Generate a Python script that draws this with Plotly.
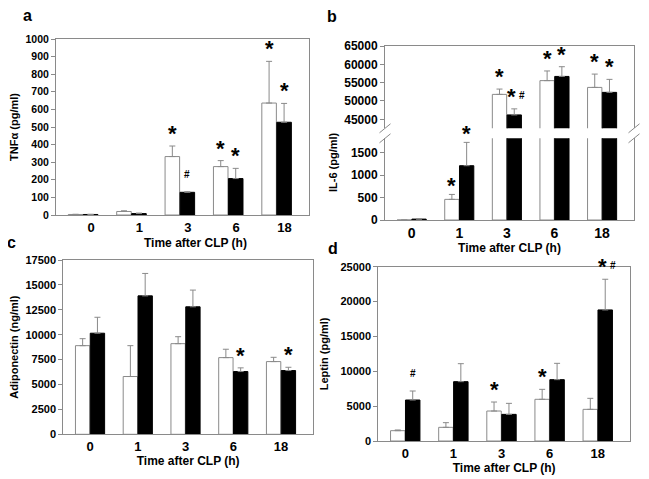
import plotly.graph_objects as go

# ---------------- data ----------------
times = ["0", "1", "3", "6", "18"]

tnf_white = [3, 20, 332, 275, 636]
tnf_white_err = [1, 4, 60, 34, 237]
tnf_black = [3, 8, 129, 207, 527]
tnf_black_err = [1, 3, 3, 58, 107]
tnf_sig_white = ["", "", "*", "*", "*"]
tnf_sig_black = ["", "", "#", "*", "*"]

il6_white = [0, 460, 51800, 55550, 53700]
il6_white_err = [0, 110, 1450, 2640, 3640]
il6_black = [20, 1210, 46200, 56700, 52350]
il6_black_err = [5, 520, 1650, 2650, 3550]
il6_sig_white = ["", "*", "*", "*", "*"]
il6_sig_black = ["", "*", "*#", "*", "*"]

adipo_white = [8900, 5800, 9100, 7700, 7300]
adipo_white_err = [700, 3100, 700, 840, 430]
adipo_black = [10150, 13900, 12800, 6300, 6400]
adipo_black_err = [1600, 2250, 1680, 370, 330]
adipo_sig_white = ["", "", "", "", ""]
adipo_sig_black = ["", "", "", "*", "*"]

leptin_white = [1480, 1960, 4300, 5980, 4540]
leptin_white_err = [100, 670, 1290, 1430, 1580]
leptin_black = [5880, 8510, 3820, 8800, 18800]
leptin_black_err = [1290, 2580, 1580, 2340, 4400]
leptin_sig_white = ["", "", "*", "*", ""]
leptin_sig_black = ["#", "", "", "", "*#"]

# ---------------- style ----------------
PAGE = 8                      # default body margin of the html page
W, H = 649 - PAGE, 479 - PAGE
GRAY = "#8a8a8a"
FONT = "Liberation Sans, Arial, sans-serif"
OFF = 0.155  # half spacing between the two bars of a group (axis units)
XR = [-0.56, 4.67]
xidx = list(range(len(times)))


def fx(px):
    return (px - PAGE) / W


def fy(px):
    return 1 - (px - PAGE) / H


def px_x(a, b):
    return [fx(a), fx(b)]


def px_y(top, bottom):
    return [fy(bottom), fy(top)]


fig = go.Figure()


def add_pair(xa, ya, white, werr, black, berr):
    for vals, err, fill in ((white, werr, "white"), (black, berr, "black")):
        fig.add_trace(go.Bar(
            x=xidx, y=vals, xaxis=xa, yaxis=ya,
            marker=dict(color=fill, line=dict(color=GRAY if fill == "white" else "black", width=1)),
            error_y=dict(type="data", symmetric=False, array=err,
                         arrayminus=[0] * len(err), color=GRAY, thickness=1, width=3),
            showlegend=False, name="open" if fill == "white" else "filled",
        ))


annotations = []
STAR = dict(family=FONT, size=22, color="black", weight="bold")
HASH = dict(family=FONT, size=10, color="black", weight="bold")


def add_marks(xa, ya, vals, errs, sigs, side, ys=0):
    for i, (v, e, s) in enumerate(zip(vals, errs, sigs)):
        if not s:
            continue
        x = i + side * OFF
        y = v + e
        if s == "*":
            annotations.append(dict(x=x, y=y, xref=xa, yref=ya, text="*", showarrow=False,
                                    yanchor="bottom", yshift=-2 + ys, font=STAR))
        elif s == "#":
            annotations.append(dict(x=x, y=y, xref=xa, yref=ya, text="#", showarrow=False,
                                    yanchor="bottom", yshift=10 + ys, font=HASH))
        else:  # "*#"
            annotations.append(dict(x=x, y=y, xref=xa, yref=ya, text="*", showarrow=False,
                                    yanchor="bottom", yshift=-2 + ys, xshift=-3, font=STAR))
            annotations.append(dict(x=x, y=y, xref=xa, yref=ya, text="#", showarrow=False,
                                    yanchor="bottom", yshift=6 + ys, xshift=8, font=HASH))


# panel a
add_pair("x", "y", tnf_white, tnf_white_err, tnf_black, tnf_black_err)
add_marks("x", "y", tnf_white, tnf_white_err, tnf_sig_white, -1)
add_marks("x", "y", tnf_black, tnf_black_err, tnf_sig_black, 1)
# panel b (upper and lower segments)
B_LOW_MAX = 1821
add_pair("x2", "y2", il6_white, il6_white_err, il6_black, il6_black_err)
add_pair("x3", "y3", il6_white, il6_white_err, il6_black, il6_black_err)
for vals, errs, sigs, side in ((il6_white, il6_white_err, il6_sig_white, -1),
                               (il6_black, il6_black_err, il6_sig_black, 1)):
    lo = [s if (v + e) < B_LOW_MAX else "" for v, e, s in zip(vals, errs, sigs)]
    hi = [s if (v + e) >= B_LOW_MAX else "" for v, e, s in zip(vals, errs, sigs)]
    add_marks("x3", "y3", vals, errs, lo, side, ys=-4)
    add_marks("x2", "y2", vals, errs, hi, side)
# panel c
add_pair("x4", "y4", adipo_white, adipo_white_err, adipo_black, adipo_black_err)
add_marks("x4", "y4", adipo_white, adipo_white_err, adipo_sig_white, -1)
add_marks("x4", "y4", adipo_black, adipo_black_err, adipo_sig_black, 1)
# panel d
add_pair("x5", "y5", leptin_white, leptin_white_err, leptin_black, leptin_black_err)
add_marks("x5", "y5", leptin_white, leptin_white_err, leptin_sig_white, -1)
add_marks("x5", "y5", leptin_black, leptin_black_err, leptin_sig_black, 1)

XTITLE = "Time after CLP (h)"
XTITLE_FONT = dict(family=FONT, size=12, color="black", weight="bold")


def xaxis(dom, anchor, show_labels=True, title=True, side="bottom", tsize=13, mirror=True,
          shift=0):
    d = dict(domain=dom, anchor=anchor, range=XR, tickmode="array", tickvals=xidx,
             ticktext=times, showticklabels=show_labels, ticks="", ticklen=0, showgrid=False,
             zeroline=False, showline=True, linecolor=GRAY, linewidth=1, mirror=mirror,
             side=side, fixedrange=True, automargin=False, ticklabelshift=shift,
             tickfont=dict(family=FONT, size=tsize, color="black", weight="bold"))
    if title:
        d["title"] = dict(text=XTITLE, standoff=0, font=XTITLE_FONT)
    return d


def yaxis(dom, anchor, rng, dtick=None, tickvals=None, title=None, tsize=11, mirror=True,
          standoff=10):
    d = dict(domain=dom, anchor=anchor, range=rng, showgrid=False, zeroline=False,
             showline=True, linecolor=GRAY, linewidth=1, mirror=mirror,
             ticks="outside", ticklen=4, tickcolor=GRAY, fixedrange=True, automargin=False,
             tickformat="d", separatethousands=False, exponentformat="none",
             tickfont=dict(family=FONT, size=tsize, color="black", weight="bold"))
    if dtick is not None:
        d["dtick"] = dtick
    if tickvals is not None:
        d["tickmode"] = "array"
        d["tickvals"] = tickvals
    if title:
        d["title"] = dict(text=title, standoff=standoff,
                          font=dict(family=FONT, size=11, color="black", weight="bold"))
    return d


b_top, b_break1, b_break2, b_bot = 46, 128.3, 138.3, 220

fig.update_layout(
    width=W, height=H, margin=dict(l=0, r=0, t=0, b=0, pad=0), autosize=False,
    paper_bgcolor="white", plot_bgcolor="white",
    barmode="group", bargap=0.38, bargroupgap=0.03,
    font=dict(family=FONT, color="black"),
    xaxis=xaxis(px_x(56, 309), "y", title=False, shift=8),
    yaxis=yaxis(px_y(39, 215), "x", [0, 1000], dtick=100, title="TNFα (pg/ml)", tsize=10.5,
                standoff=6),
    xaxis2=xaxis(px_x(385, 634), "y2", show_labels=False, title=False, side="top", mirror=False),
    yaxis2=yaxis(px_y(b_top, b_break1), "x2", [42550, 65000],
                 tickvals=[45000, 50000, 55000, 60000, 65000], tsize=12),
    xaxis3=xaxis(px_x(385, 634), "y3", tsize=14, mirror=False),
    yaxis3=yaxis(px_y(b_break2, b_bot), "x3", [0, B_LOW_MAX], dtick=500, tsize=12),
    xaxis4=xaxis(px_x(63.3, 313), "y4"),
    yaxis4=yaxis(px_y(260, 434.3), "x4", [0, 17500], dtick=2500, title="Adiponectin (ng/ml)",
                 standoff=4),
    xaxis5=xaxis(px_x(378.3, 630), "y5"),
    yaxis5=yaxis(px_y(266.7, 441), "x5", [0, 25000], dtick=5000, title="Leptin (pg/ml)",
                 standoff=9),
)

# x title of panel a (sits right of centre in the original figure)
annotations.append(dict(x=fx(195), y=fy(243), xref="paper", yref="paper", text=XTITLE,
                        showarrow=False, xanchor="center", yanchor="middle", font=XTITLE_FONT))

# IL-6 axis title spanning both segments
annotations.append(dict(x=fx(333), y=fy(130), xref="paper", yref="paper", text="IL-6 (pg/ml)",
                        textangle=-90, showarrow=False,
                        font=dict(family=FONT, size=11, color="black", weight="bold")))

# panel letters
for letter, lx, ly in (("a", 27, 16), ("b", 332, 17), ("c", 11, 242), ("d", 333, 248)):
    annotations.append(dict(x=fx(lx), y=fy(ly), xref="paper", yref="paper", text=letter,
                            showarrow=False, xanchor="center", yanchor="middle",
                            font=dict(family=FONT, size=16, color="black", weight="bold")))

fig.update_layout(annotations=annotations)

# axis-break marks for panel b
shapes = []
for xc in (385, 634):
    for yc in (b_break1, b_break2):
        shapes.append(dict(type="line", xref="paper", yref="paper",
                           x0=fx(xc - 5.5), y0=fy(yc + 4.5),
                           x1=fx(xc + 5.5), y1=fy(yc - 4.5),
                           line=dict(color=GRAY, width=1)))
fig.update_layout(shapes=shapes)

fig.write_html("out.html")
